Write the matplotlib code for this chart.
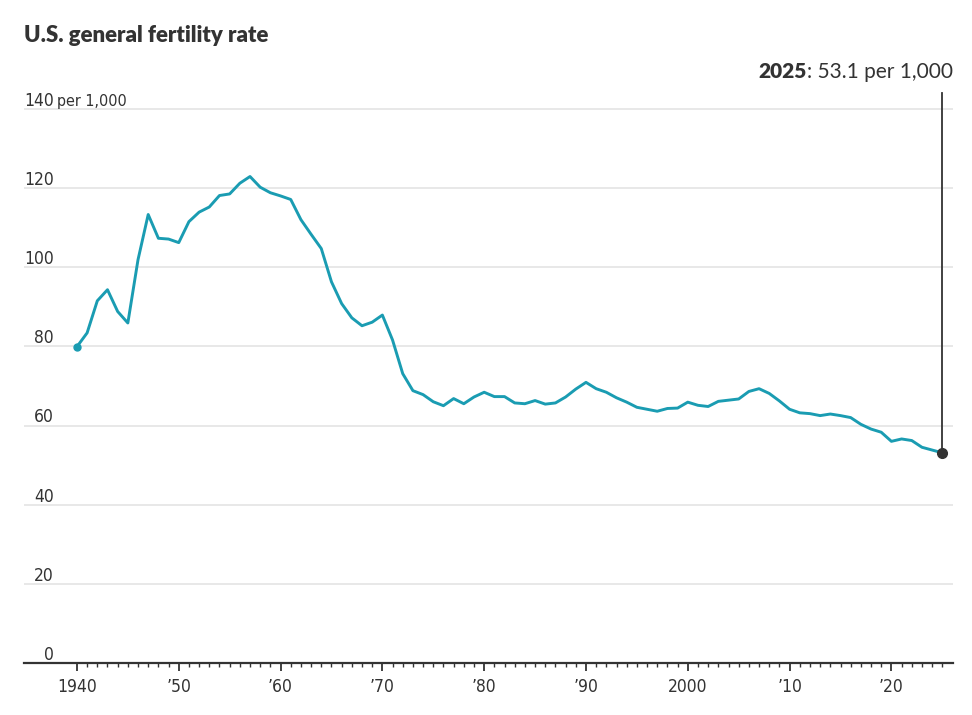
import matplotlib
matplotlib.use("Agg")
import matplotlib.pyplot as plt
from matplotlib.ticker import FixedLocator

# U.S. general fertility rate, births per 1,000 women 15-44
years = list(range(1940, 2026))
rate = [79.9, 83.4, 91.5, 94.3, 88.8, 85.9, 101.9, 113.3, 107.3, 107.1,
        106.2, 111.5, 113.9, 115.2, 118.1, 118.5, 121.2, 122.9, 120.2, 118.8,
        118.0, 117.1, 112.0, 108.3, 104.7, 96.3, 90.8, 87.2, 85.2, 86.1,
        87.9, 81.6, 73.1, 68.8, 67.8, 66.0, 65.0, 66.8, 65.5, 67.2,
        68.4, 67.3, 67.3, 65.7, 65.5, 66.3, 65.4, 65.7, 67.2, 69.2,
        70.9, 69.3, 68.4, 67.0, 65.9, 64.6, 64.1, 63.6, 64.3, 64.4,
        65.9, 65.1, 64.8, 66.1, 66.4, 66.7, 68.6, 69.3, 68.1, 66.2,
        64.1, 63.2, 63.0, 62.5, 62.9, 62.5, 62.0, 60.3, 59.1, 58.3,
        56.0, 56.6, 56.2, 54.5, 53.8, 53.1]

y_ticks = [0, 20, 40, 60, 80, 100, 120, 140]
x_ticks = [1940, 1950, 1960, 1970, 1980, 1990, 2000, 2010, 2020]
x_labels = ["1940", "\u201950", "\u201960", "\u201970", "\u201980", "\u201990",
            "2000", "\u201910", "\u201920"]

teal = "#1a9cb2"
dark = "#333333"
cond = dict(family="DejaVu Sans", stretch="condensed", color=dark)

fig = plt.figure(figsize=(9.72, 7.15), dpi=100)
ax = fig.add_axes([24 / 972, 52 / 715, 929 / 972, 570 / 715])

ax.set_xlim(1934.8, 2026.05)
ax.set_ylim(0, 144)

# gridlines
for v in y_ticks[1:]:
    ax.axhline(v, color="#e2e2e2", lw=1.1, zorder=1)

ax.plot(years, rate, color=teal, lw=2.1, zorder=3, solid_joinstyle="round")
ax.plot(years[0], rate[0], "o", color=teal, ms=5, zorder=4)

# end marker + annotation line
ax.plot([years[-1], years[-1]], [rate[-1], 144], color=dark, lw=1.3, zorder=3, clip_on=False)
ax.plot(years[-1], rate[-1], "o", color=dark, ms=7, zorder=5)

# y labels above gridlines
for v in y_ticks:
    ax.annotate(str(v), xy=(30 / 929, v), xycoords=("axes fraction", "data"),
                xytext=(0, 2.2), textcoords="offset points", ha="right", va="baseline",
                fontsize=12.5, **cond)
ax.annotate("per 1,000", xy=(33 / 929, 140), xycoords=("axes fraction", "data"),
            xytext=(0, 2.2), textcoords="offset points", ha="left", va="baseline",
            fontsize=11.5, **cond)

# spines and ticks
for s in ["top", "right", "left"]:
    ax.spines[s].set_visible(False)
ax.spines["bottom"].set_color(dark)
ax.spines["bottom"].set_linewidth(1.6)
ax.set_yticks([])
ax.xaxis.set_major_locator(FixedLocator(x_ticks))
ax.xaxis.set_minor_locator(FixedLocator(list(range(1940, 2026))))
ax.set_xticklabels(x_labels, fontsize=12.5, **cond)
ax.tick_params(axis="x", which="major", length=6, width=1.3, color=dark, pad=5)
ax.tick_params(axis="x", which="minor", length=3, width=1.0, color=dark)

# title
fig.text(24 / 972, 1 - 35 / 715, "U.S. general fertility rate", ha="left", va="center",
         fontsize=16, fontweight="heavy", color=dark, family=["Lato", "DejaVu Sans"])

# annotation text
t1 = fig.text(953 / 972, 1 - 72 / 715, ": 53.1 per 1,000", ha="right", va="center",
              fontsize=15, color=dark, family=["Lato", "DejaVu Sans"])
fig.canvas.draw()
bb = t1.get_window_extent()
fig.text(bb.x0 / 972, 1 - 72 / 715, "2025", ha="right", va="center",
         fontsize=15, fontweight="heavy", color=dark, family=["Lato", "DejaVu Sans"])

fig.savefig("out.png", dpi=100, facecolor="white")
